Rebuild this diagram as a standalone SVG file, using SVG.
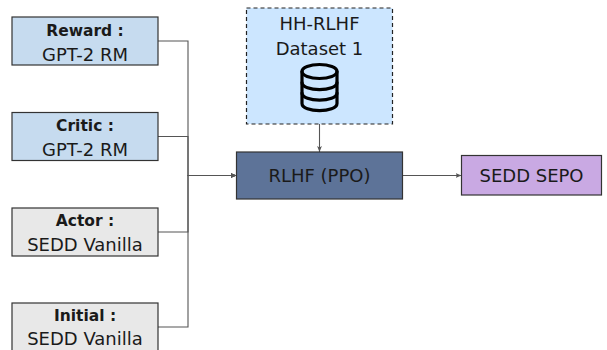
<svg xmlns="http://www.w3.org/2000/svg" width="607" height="350" viewBox="0 0 607 350">
<style>
  text { font-family: "DejaVu Sans", "Liberation Sans", sans-serif; text-anchor: middle; fill: #1a1a1a; }
  .b { font-weight: bold; font-size: 15.5px; }
  .r { font-size: 18px; }
  .box { stroke: #333333; stroke-width: 1.2; }
  .blue { fill: #c6dbef; }
  .grey { fill: #e8e8e8; }
  .conn { fill: none; stroke: #555555; stroke-width: 1.1; }
</style>
<defs>
  <marker id="arr" viewBox="0 0 10 10" refX="10" refY="5" markerWidth="6" markerHeight="6" markerUnits="userSpaceOnUse" orient="auto">
    <path d="M0,1 L10,5 L0,9 L2.5,5 Z" fill="#555555"/>
  </marker>
</defs>
<rect width="607" height="350" fill="#ffffff"/>

<g id="connectors">
  <path class="conn" d="M158,41 H188 V175.5 H236.5" marker-end="url(#arr)"/>
  <path class="conn" d="M158,136.5 H188 V175.5 H236.5" marker-end="url(#arr)"/>
  <path class="conn" d="M158,232 H188 V175.5 H236.5" marker-end="url(#arr)"/>
  <path class="conn" d="M158,327 H188 V175.5 H236.5" marker-end="url(#arr)"/>
  <path class="conn" d="M319.5,124 V152" marker-end="url(#arr)"/>
  <path class="conn" d="M402.5,175.5 H461.5" marker-end="url(#arr)"/>
</g>

<g id="reward">
  <rect class="box blue" x="12" y="17" width="146" height="48"/>
  <text class="b" x="85" y="35.5">Reward :</text>
  <text class="r" x="85" y="60.5">GPT-2 RM</text>
</g>
<g id="critic">
  <rect class="box blue" x="12" y="112.5" width="146" height="48"/>
  <text class="b" x="85" y="131">Critic :</text>
  <text class="r" x="85" y="156">GPT-2 RM</text>
</g>
<g id="actor">
  <rect class="box grey" x="12" y="208" width="146" height="48"/>
  <text class="b" x="85" y="226">Actor :</text>
  <text class="r" x="85" y="251">SEDD Vanilla</text>
</g>
<g id="initial">
  <rect class="box grey" x="12" y="303" width="146" height="48"/>
  <text class="b" x="85" y="320.5">Initial :</text>
  <text class="r" x="85" y="345">SEDD Vanilla</text>
</g>

<g id="dataset">
  <rect x="246.5" y="8" width="146" height="116" fill="#cce6ff" stroke="#222222" stroke-width="1.2" stroke-dasharray="4,3"/>
  <text class="r" x="319.5" y="30">HH-RLHF</text>
  <text class="r" x="319.5" y="55">Dataset 1</text>
  <g fill="none" stroke="#000000" stroke-width="3.2" stroke-linecap="round" stroke-linejoin="round">
    <ellipse cx="319.5" cy="71.5" rx="17.5" ry="7"/>
    <path d="M302,71.5 V103.5 C302,113 337,113 337,103.5 V71.5"/>
    <path d="M302,82.5 C302,92 337,92 337,82.5"/>
    <path d="M302,93 C302,102.5 337,102.5 337,93"/>
  </g>
</g>

<g id="rlhf">
  <rect class="box" x="236.5" y="152" width="166" height="47" fill="#5d7398"/>
  <text class="r" x="319.5" y="182">RLHF (PPO)</text>
</g>

<g id="sepo">
  <rect class="box" x="461.5" y="155.5" width="140" height="39.5" fill="#c9a9e3"/>
  <text class="r" x="531.5" y="182">SEDD SEPO</text>
</g>
</svg>
